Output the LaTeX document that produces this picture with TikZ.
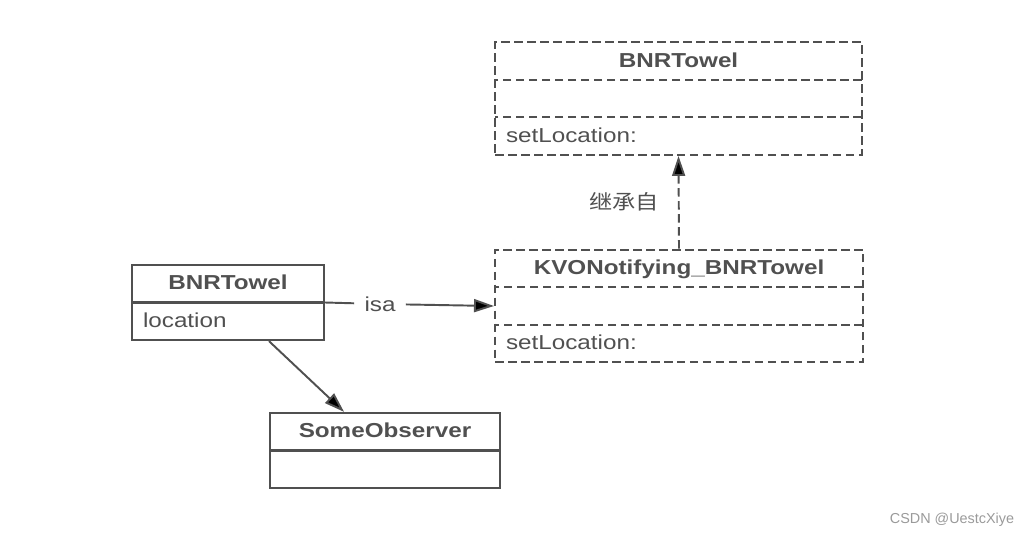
\documentclass[tikz,border=0pt]{standalone}
\usepackage{fontspec}
\setmainfont{Liberation Sans}[FakeStretch=1.2]
\newfontfamily\cjkfont{Noto Sans CJK SC}[FakeStretch=1.15]
\newfontfamily\markfont{Liberation Sans}
\usetikzlibrary{shapes.multipart,arrows.meta,positioning}

\definecolor{umlgray}{HTML}{505050}
\definecolor{marktext}{HTML}{9A9A9A}
\newcommand{\rowstrut}{\rule[-0.23cm]{0pt}{0.71cm}}

\tikzset{
  classbox/.style={rectangle split, rectangle split parts=#1, draw=umlgray,
    line width=1.2pt, inner xsep=0.22cm, inner ysep=0pt,
    rectangle split part align={center,left,left}, text=umlgray,
    font=\fontsize{11.5}{13}\selectfont},
  ghostbox/.style={classbox=3, dash pattern=on 0.17cm off 0.09cm},
  link/.style={draw=umlgray, line width=1.1pt, -{Triangle[length=0.4cm,width=0.26cm]}},
}

\begin{document}
\begin{tikzpicture}[x=0.02cm,y=-0.02cm]
  \useasboundingbox (0,0) rectangle (1022,538);

  % classes
  \node[ghostbox, minimum width=7.34cm] (super) at (678.5,98.5)
    {\textbf{BNRTowel}\rowstrut \nodepart{two}\rowstrut \nodepart{three}setLocation:\rowstrut};
  \node[ghostbox, minimum width=7.36cm] (kvo) at (679,306)
    {\textbf{KVONotifying\_BNRTowel}\rowstrut \nodepart{two}\rowstrut \nodepart{three}setLocation:\rowstrut};
  \node[classbox=2, minimum width=3.84cm] (bnr) at (228,302.5)
    {\textbf{BNRTowel}\rowstrut \nodepart{two}location\rowstrut};
  \node[classbox=2, minimum width=4.6cm] (obs) at (385,450.5)
    {\textbf{SomeObserver}\rowstrut \nodepart{two}\rowstrut};

  % links
  \node[text=umlgray, font=\fontsize{11.5}{13}\selectfont, inner xsep=0.2cm] (isa) at (380,304) {isa};
  \draw[umlgray, line width=1.1pt] (bnr.text split east) -- (isa);
  \draw[link] (isa) -- (kvo.two west);
  \draw[link, dash pattern=on 0.17cm off 0.09cm] (kvo.north) --
    node[left=0.26cm, text=umlgray, font=\cjkfont\fontsize{11.5}{13}\selectfont] (inherit) {继承自} (super.south);
  \draw[link] (bnr) -- (obs);

  \node[text=marktext, font=\markfont\fontsize{8.2}{10}\selectfont] (mark) at (952,520) {CSDN @UestcXiye};
\end{tikzpicture}
\end{document}
